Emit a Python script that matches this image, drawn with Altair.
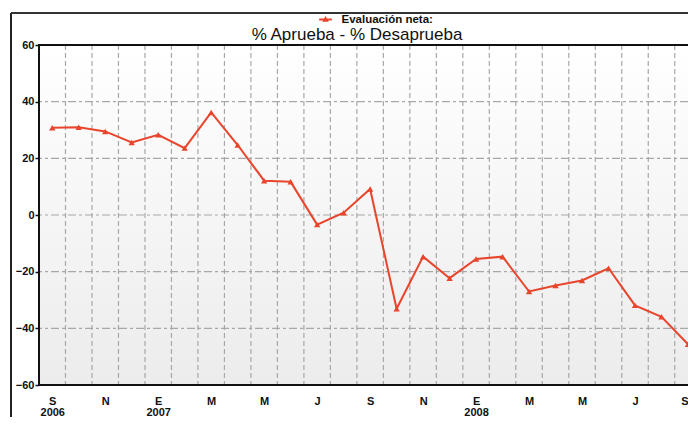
import altair as alt
import pandas as pd

# ---- data ----
months = ["S", "O", "N", "D", "E", "F", "M", "A", "M", "J", "J", "A",
          "S", "O", "N", "D", "E", "F", "M", "A", "M", "J", "J", "A", "S"]
years = {0: "2006", 4: "2007", 16: "2008"}
values = [30.8, 31.0, 29.5, 25.6, 28.3, 23.6, 36.2, 24.7, 12.1, 11.7, -3.4, 0.8,
          9.2, -33.1, -14.7, -22.3, -15.5, -14.7, -27.0, -24.9, -23.1, -18.8,
          -31.9, -35.9, -45.6]
y_ticks = [-60, -40, -20, 0, 20, 40, 60]
y_grid = [-40, -20, 0, 20, 40]
series_name = "Evaluación neta:"
chart_title = "% Aprueba - % Desaprueba"

RED = "#e8452c"
GRID = "#a8a8a8"
FONT = "Liberation Sans"
W, H = 649, 340

idx = list(range(len(months)))
last = idx[-1]
df = pd.DataFrame({"i": idx, "v": values, "serie": series_name})
gx = pd.DataFrame({"g": [i + 0.5 for i in idx[:-1]]})
gy = pd.DataFrame({"g": y_grid})

# label expression (multi-line for year starts)
items = []
for i, m in enumerate(months):
    if i % 2:
        items.append('""')
    elif i in years:
        items.append('["%s","%s"]' % (m, years[i]))
    else:
        items.append('"%s"' % m)
label_expr = "[" + ",".join(items) + "][datum.value]"

xscale = alt.Scale(domain=[-0.5, last], nice=False, zero=False)
yscale = alt.Scale(domain=[-60, 60], nice=False)

one = alt.Data(values=[{}])

bg = alt.Chart(one).mark_rect(
    fill=alt.LinearGradient(
        gradient="linear",
        stops=[alt.GradientStop(color="#ffffff", offset=0),
               alt.GradientStop(color="#fcfcfc", offset=0.15),
               alt.GradientStop(color="#ececec", offset=1)],
        x1=0, x2=0, y1=0, y2=1)
).encode(x=alt.value(0), x2=alt.value(W), y=alt.value(0), y2=alt.value(H))

gridv = alt.Chart(gx).mark_rule(color=GRID, strokeWidth=1.2, strokeDash=[5, 3]).encode(
    x=alt.X("g:Q", scale=xscale))
gridh = alt.Chart(gy).mark_rule(color=GRID, strokeWidth=1.2, strokeDash=[8, 3, 3, 3]).encode(
    y=alt.Y("g:Q", scale=yscale))

border_top = alt.Chart(one).mark_rule(color="#111", strokeWidth=2).encode(
    x=alt.value(-1), x2=alt.value(W + 2), y=alt.value(0))
border_left = alt.Chart(one).mark_rule(color="#111", strokeWidth=2).encode(
    x=alt.value(0), y=alt.value(-1), y2=alt.value(H + 1))
border_bottom = alt.Chart(one).mark_rule(color="#111", strokeWidth=2).encode(
    x=alt.value(-1), x2=alt.value(W + 2), y=alt.value(H))

legend = alt.Legend(
    orient="none", legendX=279, legendY=-33, title=None,
    symbolType="M-1,0L1,0M0,-0.25L0.25,0.18L-0.25,0.18Z",
    symbolSize=160, labelOffset=8.5, padding=0,
    symbolFillColor=RED, symbolStrokeColor=RED, symbolStrokeWidth=2, symbolOpacity=1,
    labelFont=FONT, labelFontSize=11.5, labelFontWeight="bold", labelColor="#111",
)

base = alt.Chart(df).encode(
    x=alt.X("i:Q", scale=xscale, axis=alt.Axis(
        values=list(range(0, len(months), 2)), labelExpr=label_expr, ticks=False,
        domain=False, grid=False, title=None, labelFont=FONT, labelFontSize=11,
        labelFontWeight="bold", labelColor="#111", labelPadding=10.5, labelLineHeight=11,
        labelAlign=alt.ExprRef(expr="datum.value >= %d ? 'right' : 'center'" % last),
        labelFlush=False, labelOverlap=False)),
    y=alt.Y("v:Q", scale=yscale, axis=alt.Axis(
        values=y_ticks, ticks=True, tickSize=4, tickColor="#111", tickWidth=1.5,
        domain=False, grid=False, title=None, labelFont=FONT, labelFontSize=11,
        labelFontWeight="bold", labelColor="#111", labelPadding=1)),
)
line = base.mark_line(color=RED, strokeWidth=2).encode(
    color=alt.Color("serie:N", scale=alt.Scale(range=[RED]), legend=legend))
points = base.mark_point(shape="triangle-up", filled=True, size=40, opacity=1, color=RED)

frame_left = alt.Chart(one).mark_rule(color="#222", strokeWidth=2).encode(
    x=alt.value(-28), y=alt.value(-32), y2=alt.value(H + 60))
frame_top = alt.Chart(one).mark_rule(color="#333", strokeWidth=2).encode(
    x=alt.value(-28), x2=alt.value(W + 20), y=alt.value(-32))
title = alt.Chart(one).mark_text(
    font=FONT, fontSize=17, color="#111", align="center", baseline="alphabetic"
).encode(x=alt.value(318), y=alt.value(-5), text=alt.value(chart_title))

chart = alt.layer(bg, gridv, gridh, border_top, border_left, border_bottom,
                  line, points, frame_left, frame_top, title).properties(
    width=W, height=H, autosize="none",
    padding={"left": 31, "top": 37, "right": 0, "bottom": 32},
).configure_view(stroke=None)

chart.save("out.html", embed_options={"renderer": "svg", "actions": False})
